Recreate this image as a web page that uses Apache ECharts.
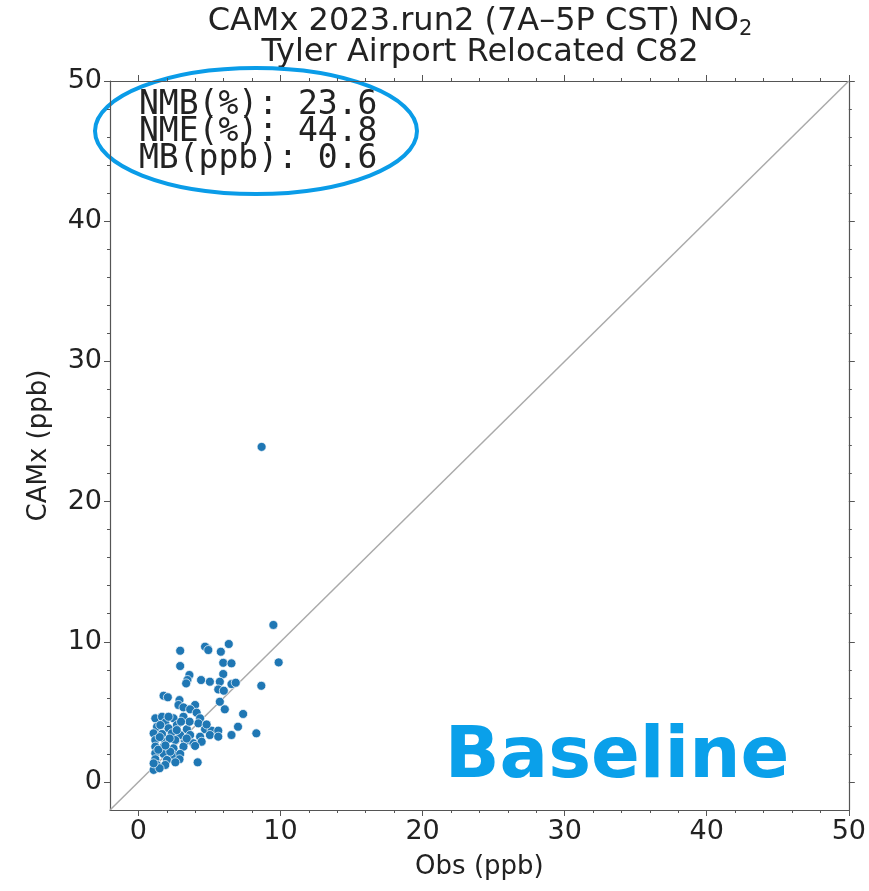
<!DOCTYPE html>
<html>
<head>
<meta charset="utf-8">
<script src="https://cdn.jsdelivr.net/npm/echarts@6/dist/echarts.min.js"></script>
<style>
  html, body { margin: 0; padding: 0; background: #fff; }
  #chart { width: 869px; height: 891px; }
</style>
</head>
<body>
<div id="chart"></div>
<script>
// Paired hourly NO2 (ppb): observed vs CAMx modeled, 7A–5P CST
const obsPpb = [
  9.5, 9.87, 6.36, 4.85, 4.69, 4.92, 2.94, 5.80, 5.97, 6.55,
  2.94, 5.97, 3.59, 3.45, 3.36, 4.41, 5.03, 5.73, 6.55, 6.85,
  8.65, 5.62, 6.01, 1.77, 2.07, 2.89, 5.73, 2.82, 3.17, 3.99,
  3.64, 4.10, 6.08, 7.37, 1.19, 1.66, 2.47, 3.17, 4.34, 1.89,
  2.71, 4.22, 7.01, 1.31, 2.12, 3.41, 4.69, 5.15, 5.62, 8.30,
  6.55, 1.07, 1.66, 2.36, 2.94, 3.64, 4.34, 5.03, 5.62, 1.19,
  1.89, 2.59, 3.29, 3.87, 4.45, 1.19, 1.77, 2.47, 3.17, 3.99,
  1.19, 1.77, 2.47, 2.94, 1.19, 2.01, 2.89, 1.31, 1.89, 1.07,
  1.49, 4.17, 1.07, 2.24, 1.54, 2.12, 8.67, 1.40, 2.20, 2.70,
  1.50, 3.40, 2.60, 1.90, 3.60, 4.80, 3.00
];
const camxPpb = [
  11.2, 8.53, 9.84, 9.53, 9.65, 9.41, 9.36, 9.29, 8.50, 8.46,
  8.27, 7.70, 7.63, 7.27, 7.03, 7.27, 7.15, 7.15, 6.98, 7.08,
  6.86, 6.60, 6.51, 6.15, 6.04, 5.84, 5.72, 5.49, 5.32, 5.49,
  5.18, 4.94, 5.18, 4.85, 4.54, 4.65, 4.54, 4.65, 4.54, 4.23,
  4.06, 4.18, 3.94, 3.94, 3.83, 3.76, 3.76, 3.66, 3.66, 3.47,
  3.35, 3.47, 3.42, 3.47, 3.35, 3.35, 3.23, 3.35, 3.23, 2.99,
  2.87, 2.99, 2.87, 2.76, 2.87, 2.52, 2.52, 2.40, 2.52, 2.57,
  2.05, 2.00, 1.92, 2.00, 1.62, 1.57, 1.62, 1.21, 1.21, 0.86,
  0.98, 1.40, 1.33, 2.16, 4.06, 4.65, 23.9, 2.30, 3.10, 3.70,
  3.20, 3.10, 1.40, 2.60, 4.30, 4.10, 4.30
];

const axisMin = -2;
const axisMax = 50;
const majorTicks = [0, 10, 20, 30, 40, 50];
const minorTicks = [2, 4, 6, 8, 12, 14, 16, 18, 22, 24, 26, 28, 32, 34, 36, 38, 42, 44, 46, 48];
const oneToOne = [[axisMin, axisMin], [axisMax, axisMax]];

const statLines = ['NMB(%): 23.6', 'NME(%): 44.8', 'MB(ppb): 0.6'];
const titleLine1 = 'CAMx 2023.run2 (7A–5P CST) NO';
const titleSub = '2';
const titleLine2 = 'Tyler Airport Relocated C82';

const points = obsPpb.map((x, i) => [x, camxPpb[i]]);

const spine = '#555';
const tickFont = 'DejaVu Sans';

function frameAxis(position, ticks, tickLen, showLine, label) {
  const ax = {
    type: 'value', min: axisMin, max: axisMax, position: position,
    axisLine: { show: showLine, onZero: false, lineStyle: { color: spine, width: 1.2 } },
    axisTick: { show: true, inside: false, length: tickLen, customValues: ticks, lineStyle: { color: spine, width: 1 } },
    axisLabel: { show: false },
    splitLine: { show: false }
  };
  if (label) {
    ax.axisLabel = {
      show: true, customValues: majorTicks, fontFamily: tickFont, fontSize: 27,
      color: '#222', margin: 8
    };
  }
  return ax;
}

const xMain = frameAxis('bottom', majorTicks, 6, true, true);
xMain.name = 'Obs (ppb)';
xMain.nameLocation = 'middle';
xMain.nameGap = 44;
xMain.nameTextStyle = { fontFamily: tickFont, fontSize: 26, color: '#222' };

const yMain = frameAxis('left', majorTicks, 6, true, true);
yMain.name = 'CAMx (ppb)';
yMain.nameLocation = 'middle';
yMain.nameGap = 58;
yMain.nameRotate = 90;
yMain.nameTextStyle = { fontFamily: tickFont, fontSize: 26, color: '#222' };

const option = {
  backgroundColor: '#fff',
  animation: false,
  grid: { left: 110, top: 81, width: 743, height: 729, containLabel: false },
  xAxis: [
    xMain,
    frameAxis('top', majorTicks, 6, true, false),
    frameAxis('bottom', minorTicks, 3, false, false),
    frameAxis('top', minorTicks, 3, false, false)
  ],
  yAxis: [
    yMain,
    frameAxis('right', majorTicks, 6, true, false),
    frameAxis('left', minorTicks, 3, false, false),
    frameAxis('right', minorTicks, 3, false, false)
  ],
  series: [
    {
      type: 'line', data: oneToOne, symbol: 'none', silent: true,
      lineStyle: { color: '#aaa', width: 1.5 }, z: 1
    },
    {
      type: 'scatter', data: points, symbol: 'circle', symbolSize: 9,
      itemStyle: { color: '#1f77b4', borderColor: '#fff', borderWidth: 0.7, opacity: 1 },
      z: 2
    }
  ],
  graphic: [
    {
      type: 'text', x: 480, y: 4,
      style: {
        text: '{m|' + titleLine1 + '}{s|' + titleSub + '}',
        align: 'center',
        rich: {
          m: { fontFamily: tickFont, fontSize: 32, lineHeight: 36, fill: '#222' },
          s: { fontFamily: tickFont, fontSize: 21, lineHeight: 20, verticalAlign: 'bottom', fill: '#222' }
        }
      }
    },
    {
      type: 'text', x: 480, y: 37,
      style: { text: titleLine2, align: 'center', font: '32px "DejaVu Sans"', fill: '#222' }
    },
    {
      type: 'text', x: 139, y: 92,
      style: {
        text: statLines.join('\n'), font: '33px "DejaVu Sans Mono"', lineHeight: 27,
        fill: '#222'
      }
    },
    {
      type: 'ellipse', shape: { cx: 256, cy: 131, rx: 161, ry: 63 },
      style: { fill: 'none', stroke: '#0A9CE8', lineWidth: 4 }
    },
    {
      type: 'text', x: 617, y: 758,
      style: {
        text: 'Baseline', align: 'center', verticalAlign: 'middle',
        font: 'bold 72px "DejaVu Sans"', fill: '#0AA0EA'
      }
    }
  ]
};

const chart = echarts.init(document.getElementById('chart'), null, { renderer: 'canvas' });
chart.setOption(option);
</script>
</body>
</html>
